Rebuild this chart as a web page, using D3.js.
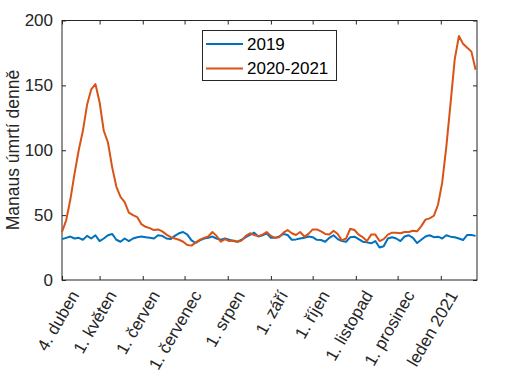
<!DOCTYPE html>
<html>
<head>
<meta charset="utf-8">
<script src="https://cdn.jsdelivr.net/npm/d3@7"></script>
<style>
  body { margin: 0; background: #fff; }
  text { font-family: Arial, 'Liberation Sans', sans-serif; }
</style>
</head>
<body>
<svg id="chart" width="517" height="376"></svg>
<script>
// every 3rd day from 4 April 2020
const startDate = new Date(2020, 3, 4)
const stepDays = 3
const endDate = new Date(2021, 0, 27)

const deaths2019 = [
  31.5, 32.5, 33.5, 32, 32.5, 31, 34, 32, 34.5, 30,
  32, 34.5, 35.5, 31, 29.5, 32, 30, 32, 33, 33.5,
  33, 32.5, 32, 34.5, 34, 32, 31.5, 34, 36, 37,
  35, 30.5, 28.5, 30.5, 32, 32.5, 33.5, 32, 31, 32,
  31, 30, 29.5, 31, 33, 34.7, 36.5, 33.5, 34.5, 36,
  32.5, 32.5, 33.5, 35.5, 34.7, 31, 31.3, 32, 32.5, 33.5,
  33, 31, 30.8, 29.5, 32.5, 34.5, 31.5, 30, 29.5, 33,
  33.4, 31.5, 29.5, 29, 28.3, 30, 25, 26, 32, 33,
  32, 30, 33.5, 34.5, 32.5, 28.5, 31, 33.5, 34.5, 33,
  33.4, 32, 34.5, 33.4, 33, 32, 30.8, 34.7, 34.7, 34
]

const deaths2020 = [
  37, 46, 62, 82, 100, 115, 135, 147, 151, 137,
  115, 106, 87, 72, 64, 60, 52, 50, 48.5, 43,
  41, 40, 38.5, 39, 37.5, 35, 33, 32, 31, 29.5,
  27, 26.5, 29, 31, 32.5, 33.5, 37, 34, 29.5, 31.5,
  30, 30.5, 29.5, 30.5, 34, 36, 34.7, 33.8, 35, 37,
  34, 32.5, 33, 36.5, 38.5, 36, 34.7, 37, 33.5, 35.5,
  39, 39, 37.5, 35.5, 35, 38, 35.5, 30.5, 32, 39.5,
  38.5, 35, 33, 30, 35, 35, 30, 31.5, 35, 36.5,
  36.5, 36, 37, 37, 38, 37.5, 41.5, 46.5, 47.5, 49.5,
  58, 75, 103, 136, 170, 188, 182, 179, 176, 162
]

const seriesNames = ['2019', '2020-2021']
const seriesColors = ['#0072BD', '#D95319']

const tickDates = [
  new Date(2020, 3, 4), new Date(2020, 4, 1), new Date(2020, 5, 1),
  new Date(2020, 6, 1), new Date(2020, 7, 1), new Date(2020, 8, 1),
  new Date(2020, 9, 1), new Date(2020, 10, 1), new Date(2020, 11, 1),
  new Date(2021, 0, 1)
]
const tickLabels = [
  '4. duben', '1. květen', '1. červen', '1. červenec', '1. srpen',
  '1. září', '1. říjen', '1. listopad', '1. prosinec', 'leden 2021'
]
const yTicks = [0, 50, 100, 150, 200]

const svg = d3.select('#chart')
const plotLeft = 62
const plotRight = 477
const plotTop = 20.5
const plotBottom = 280

const x = d3.scaleTime().domain([startDate, endDate]).range([plotLeft, plotRight])
const y = d3.scaleLinear().domain([0, 200]).range([plotBottom, plotTop])

const dateAt = i => d3.timeDay.offset(startDate, i * stepDays)

// box
svg.append('rect')
  .attr('x', plotLeft).attr('y', plotTop)
  .attr('width', plotRight - plotLeft).attr('height', plotBottom - plotTop)
  .attr('fill', 'none').attr('stroke', '#262626').attr('stroke-width', 1)

// y axis
const yAxis = svg.append('g')
  .attr('transform', `translate(${plotLeft},0)`)
  .call(d3.axisLeft(y).tickValues(yTicks).tickSize(-4).tickPadding(9))
yAxis.select('.domain').remove()
yAxis.selectAll('line').attr('stroke', '#262626')
yAxis.selectAll('text').attr('font-size', 17).attr('fill', '#262626')
  .style('font-family', 'Arial, Liberation Sans, sans-serif')

// right side ticks
svg.append('g')
  .attr('transform', `translate(${plotRight},0)`)
  .call(d3.axisRight(y).tickValues(yTicks).tickSize(-4).tickFormat(''))
  .call(g => g.select('.domain').remove())
  .selectAll('line').attr('stroke', '#262626')

// x axis
const xAxis = svg.append('g')
  .attr('transform', `translate(0,${plotBottom})`)
  .call(d3.axisBottom(x).tickValues(tickDates).tickSize(-4).tickFormat((d, i) => tickLabels[i]))
xAxis.select('.domain').remove()
xAxis.selectAll('line').attr('stroke', '#262626')
xAxis.selectAll('text')
  .attr('font-size', 17).attr('fill', '#262626')
  .style('font-family', 'Arial, Liberation Sans, sans-serif')
  .attr('text-anchor', 'end')
  .attr('y', 0).attr('dy', '0.35em')
  .attr('transform', 'translate(12,12) rotate(-60)')

svg.append('g')
  .attr('transform', `translate(0,${plotTop})`)
  .call(d3.axisTop(x).tickValues(tickDates).tickSize(-4).tickFormat(''))
  .call(g => g.select('.domain').remove())
  .selectAll('line').attr('stroke', '#262626')

// y label
svg.append('text')
  .attr('transform', `translate(19,150) rotate(-90)`)
  .attr('text-anchor', 'middle')
  .attr('font-size', 17.5)
  .attr('fill', '#262626')
  .text('Manaus úmrtí denně')

// lines
const line = d3.line()
  .x((d, i) => x(dateAt(i)))
  .y(d => y(d))

;[deaths2019, deaths2020].forEach((s, k) => {
  svg.append('path')
    .datum(s)
    .attr('d', line)
    .attr('fill', 'none')
    .attr('stroke', seriesColors[k])
    .attr('stroke-width', 2)
    .attr('stroke-linejoin', 'round')
})

// legend
const legend = svg.append('g')
legend.append('rect')
  .attr('x', 202.5).attr('y', 30.5).attr('width', 134).attr('height', 50)
  .attr('fill', '#fff').attr('stroke', '#262626').attr('stroke-width', 1)
seriesNames.forEach((name, k) => {
  const ly = 44 + k * 24.5
  legend.append('line')
    .attr('x1', 206).attr('x2', 243).attr('y1', ly).attr('y2', ly)
    .attr('stroke', seriesColors[k]).attr('stroke-width', 2)
  legend.append('text')
    .attr('x', 247).attr('y', ly).attr('dy', '0.35em')
    .attr('font-size', 17).attr('fill', '#000')
    .text(name)
})
</script>
</body>
</html>
